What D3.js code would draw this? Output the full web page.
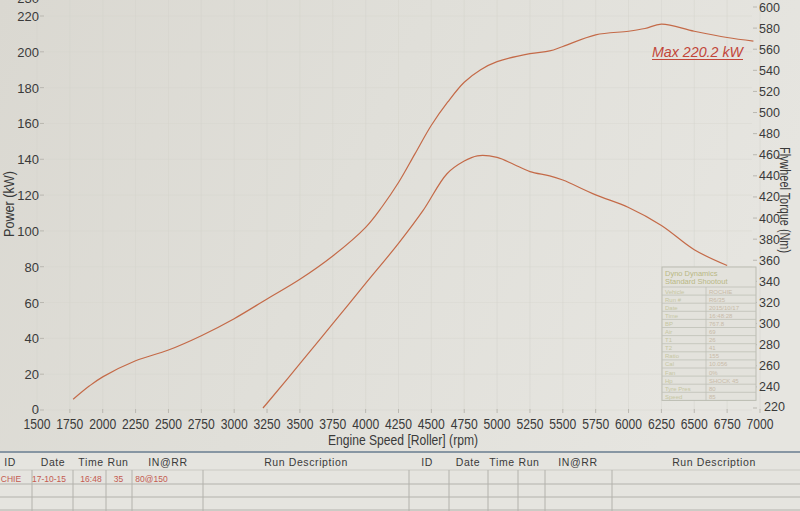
<!DOCTYPE html>
<html><head><meta charset="utf-8">
<script src="https://cdn.jsdelivr.net/npm/d3@7"></script>
<style>html,body{margin:0;padding:0;background:#e2e0da;overflow:hidden}svg{display:block}</style>
</head><body><svg id="c" width="800" height="511"></svg>
<script>
// ---- data ----
const powerRpm = [1775,1900,2000,2250,2500,2750,3000,3250,3500,3750,4000,4125,4250,4375,4500,4625,4750,4875,5000,5250,5400,5500,5750,6000,6125,6250,6500,6750,6950];
const powerKw  = [6,13.5,18.5,27.5,33.5,41.5,51,62,73,86,102,113.5,127,143,159,172,183,190,194.5,199,200.5,203,209.5,211.5,213,215.5,211.5,208,206];
const torqueRpm = [3219,3250,3500,3750,4000,4250,4436,4619,4750,4850,5000,5125,5250,5400,5500,5750,6000,6250,6500,6750];
const torqueNm  = [220,224.5,262,300,338,376,407,442,454,459,457.5,451,444,440,436,422,410,393,370,355];
const rpmTicks = [1500,1750,2000,2250,2500,2750,3000,3250,3500,3750,4000,4250,4500,4750,5000,5250,5500,5750,6000,6250,6500,6750,7000];
const powerTicks = [0,20,40,60,80,100,120,140,160,180,200,220,230];
const torqueTicks = [220,240,260,280,300,320,340,360,380,400,420,440,460,480,500,520,540,560,580,600];
const headerLabels = ["ID","Date","Time","Run","IN@RR","Run Description"];
const runRow = ["CHIE","17-10-15","16:48","35","80@150"];
const legendTitle = ["Dyno Dynamics","Standard Shootout"];
const legendKeys = ["Vehicle","Run #","Date","Time","BP","Air","T1","T2","Ratio","Cal","Fan","Hp","Tyre Pres","Speed"];
const legendVals = ["ROCHIE","R6/35","2015/10/17","16:48:28","767.8","69","26","41","155","10.056","0%","SHOCK 45","80","85"];
const maxLabel = "Max 220.2 kW";
const xTitle = "Engine Speed [Roller] (rpm)";
const yLTitle = "Power (kW)";
const yRTitle = "Flywheel Torque (Nm)";

// ---- drawing ----
const svg = d3.select("#c");
const FONT = "'Liberation Sans', Arial, sans-serif";
const defs = svg.append("defs");
const g0 = defs.append("linearGradient").attr("id","bg").attr("x1","0").attr("x2","1").attr("y1","0").attr("y2","0.3");
g0.append("stop").attr("offset","0").attr("stop-color","#dad8d1");
g0.append("stop").attr("offset","0.5").attr("stop-color","#e0dfd9");
g0.append("stop").attr("offset","1").attr("stop-color","#e6e5e0");
svg.append("rect").attr("width",800).attr("height",511).attr("fill","url(#bg)");

const x = d3.scaleLinear().domain([1500,7000]).range([37,760]);
const yL = d3.scaleLinear().domain([0,220]).range([410,16]);
const yR = d3.scaleLinear().domain([220,600]).range([408,7]);

// faint grid
svg.append("g").selectAll("line").data(rpmTicks).join("line")
  .attr("x1",d=>x(d)).attr("x2",d=>x(d)).attr("y1",0).attr("y2",410)
  .attr("stroke","#d6d4cd").attr("stroke-width",0.8).attr("opacity",0.6);
svg.append("g").selectAll("line").data(powerTicks.filter(d=>d<=220)).join("line")
  .attr("x1",45).attr("x2",752).attr("y1",d=>yL(d)).attr("y2",d=>yL(d))
  .attr("stroke","#d6d4cd").attr("stroke-width",0.8).attr("opacity",0.45);

// x axis ticks & labels
const xa = svg.append("g");
xa.selectAll("line").data(rpmTicks).join("line")
  .attr("x1",d=>x(d)).attr("x2",d=>x(d)).attr("y1",409).attr("y2",413)
  .attr("stroke","#b9b7b0").attr("stroke-width",1);
xa.selectAll("text").data(rpmTicks).join("text")
  .attr("x",d=>x(d)).attr("y",429).attr("text-anchor","middle")
  .attr("font-family",FONT).attr("font-size",15.5).attr("fill","#3a3a3a")
  .attr("textLength",27).attr("lengthAdjust","spacingAndGlyphs").text(d=>d);

// left axis
const la = svg.append("g");
la.selectAll("text").data(powerTicks).join("text")
  .attr("x",39).attr("y",d=>yL(d)+(d===0?3.5:5)).attr("text-anchor","end")
  .attr("font-family",FONT).attr("font-size",13).attr("fill","#3a3a3a").text(d=>d);
la.selectAll("line").data(powerTicks).join("line")
  .attr("x1",40).attr("x2",44).attr("y1",d=>yL(d)).attr("y2",d=>yL(d))
  .attr("stroke","#b9b7b0");

// right axis
const ra = svg.append("g");
ra.selectAll("text").data(torqueTicks).join("text")
  .attr("x",d=>d===220?764:759).attr("y",d=>yR(d)+(d===220?2.5:4.5)).attr("text-anchor","start")
  .attr("font-family",FONT).attr("font-size",12.5).attr("fill","#3a3a3a").text(d=>d);
ra.selectAll("line").data(torqueTicks).join("line")
  .attr("x1",753).attr("x2",757).attr("y1",d=>yR(d)).attr("y2",d=>yR(d))
  .attr("stroke","#b9b7b0");

// axis titles
svg.append("text").attr("transform","translate(14,204) rotate(-90)")
  .attr("text-anchor","middle").attr("font-family",FONT).attr("font-size",14).attr("fill","#3a3a3a")
  .attr("textLength",66).attr("lengthAdjust","spacingAndGlyphs").text(yLTitle);
svg.append("text").attr("transform","translate(780,200) rotate(90)")
  .attr("text-anchor","middle").attr("font-family",FONT).attr("font-size",14).attr("fill","#3a3a3a")
  .attr("textLength",106).attr("lengthAdjust","spacingAndGlyphs").text(yRTitle);
svg.append("text").attr("x",403).attr("y",445)
  .attr("text-anchor","middle").attr("font-family",FONT).attr("font-size",15).attr("fill","#3a3a3a")
  .attr("textLength",150).attr("lengthAdjust","spacingAndGlyphs").text(xTitle);

// legend box (faint)
const lg = svg.append("g");
const lx0 = 662, lx1 = 756, ldiv = 706, ly0 = 267, lrow0 = 287, lrowH = 8.1;
lg.append("rect").attr("x",lx0).attr("y",ly0).attr("width",lx1-lx0).attr("height",lrow0+lrowH*legendKeys.length-ly0)
  .attr("fill","#e3e2dc").attr("stroke","#bbbcb2").attr("stroke-width",1);
lg.selectAll("text.t").data(legendTitle).join("text").attr("class","t")
  .attr("x",lx0+3).attr("y",(d,i)=>ly0+9+i*8).attr("font-family",FONT).attr("font-size",7.5)
  .attr("fill","#b9b884").text(d=>d);
lg.selectAll("line.r").data(legendKeys).join("line").attr("class","r")
  .attr("x1",lx0).attr("x2",lx1).attr("y1",(d,i)=>lrow0+i*lrowH).attr("y2",(d,i)=>lrow0+i*lrowH)
  .attr("stroke","#bfc0b6").attr("stroke-width",0.8);
lg.append("line").attr("x1",ldiv).attr("x2",ldiv).attr("y1",lrow0).attr("y2",lrow0+lrowH*legendKeys.length)
  .attr("stroke","#bfc0b6").attr("stroke-width",0.8);
lg.selectAll("text.k").data(legendKeys).join("text").attr("class","k")
  .attr("x",lx0+3).attr("y",(d,i)=>lrow0+i*lrowH+6.5).attr("font-family",FONT).attr("font-size",6)
  .attr("fill","#c6c6a2").text(d=>d);
lg.selectAll("text.v").data(legendVals).join("text").attr("class","v")
  .attr("x",ldiv+3).attr("y",(d,i)=>lrow0+i*lrowH+6.5).attr("font-family",FONT).attr("font-size",6)
  .attr("fill","#c8baa8").text(d=>d);

// curves
const lineP = d3.line().x((d,i)=>x(powerRpm[i])).y(d=>yL(d)).curve(d3.curveCatmullRom.alpha(0.5));
const lineT = d3.line().x((d,i)=>x(torqueRpm[i])).y(d=>yR(d)).curve(d3.curveCatmullRom.alpha(0.5));
svg.append("path").attr("d",lineP(powerKw)).attr("fill","none").attr("stroke","#c46a48").attr("stroke-width",1.2);
svg.append("path").attr("d",lineT(torqueNm)).attr("fill","none").attr("stroke","#c46a48").attr("stroke-width",1.2);

// max label
svg.append("text").attr("x",652).attr("y",57).attr("font-family",FONT).attr("font-size",15)
  .attr("font-style","italic").attr("fill","#c2463a")
  .attr("textLength",91).attr("lengthAdjust","spacingAndGlyphs").text(maxLabel);
svg.append("line").attr("x1",652).attr("x2",743).attr("y1",59.5).attr("y2",59.5)
  .attr("stroke","#c2463a").attr("stroke-width",1);

// bottom table
const tb = svg.append("g");
tb.append("rect").attr("x",0).attr("y",452).attr("width",800).attr("height",59).attr("fill","#e5e4df");
tb.append("line").attr("x1",0).attr("x2",800).attr("y1",452).attr("y2",452).attr("stroke","#8796a3").attr("stroke-width",2);
[[470,0.5],[484,1],[497,1],[510,1]].forEach(([yy,op])=>{
  tb.append("line").attr("x1",0).attr("x2",800).attr("y1",yy).attr("y2",yy).attr("stroke","#b3b2ac").attr("stroke-width",1).attr("opacity",op);
});
const vLines = [32,73,106,132,203,409,449,488,518,545,612];
tb.selectAll("line.v").data(vLines).join("line").attr("class","v")
  .attr("x1",d=>d).attr("x2",d=>d).attr("y1",470).attr("y2",511).attr("stroke","#b3b2ac");
const hdrPosL = [10,53,91,118,168,306];
const hdrPosR = [427,468,502,529,578,714];
[hdrPosL,hdrPosR].forEach(pos=>{
  tb.selectAll(null).data(headerLabels).join("text")
    .attr("x",(d,i)=>pos[i]).attr("y",466).attr("text-anchor","middle")
    .attr("font-family",FONT).attr("font-size",10.5).attr("letter-spacing",0.6).attr("fill","#3a3a3a").text(d=>d);
});
const rowPos = [11,49,91,118.5,151.5];
tb.selectAll("text.row").data(runRow).join("text").attr("class","row")
  .attr("x",(d,i)=>rowPos[i]).attr("y",482).attr("text-anchor","middle")
  .attr("font-family",FONT).attr("font-size",8.5).attr("fill","#c45a50").text(d=>d);
</script></body></html>
